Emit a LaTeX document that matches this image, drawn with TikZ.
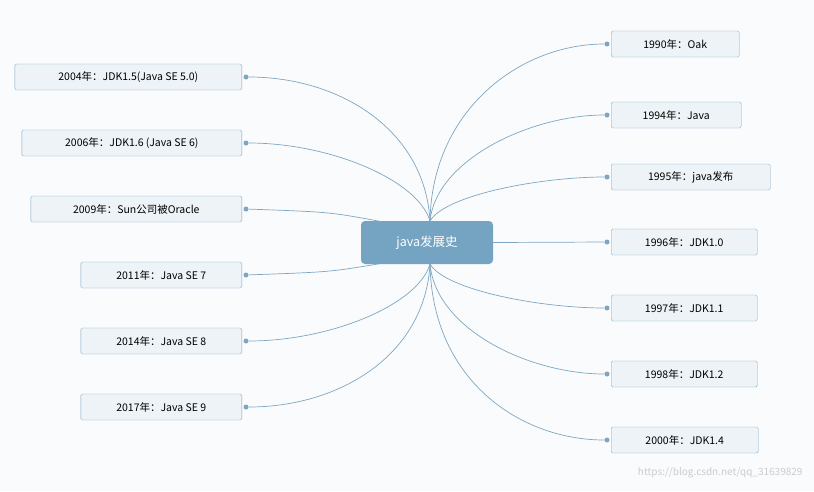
\documentclass[tikz,border=0pt]{standalone}
\usepackage{fontspec}
\setmainfont{Noto Sans CJK SC}
\definecolor{bg}{HTML}{FAFBFC}
\definecolor{mainc}{HTML}{75A3C2}
\definecolor{linec}{HTML}{7EA6C2}
\definecolor{boxf}{HTML}{EEF3F7}
\begin{document}
\begin{tikzpicture}[x=1pt,y=-1pt,
 topic/.style={draw=linec,fill=boxf,rounded corners=1.5pt,minimum height=26pt,inner sep=0pt,font=\fontsize{10.5pt}{12pt}\selectfont,anchor=west},
 conn/.style={draw=linec,line width=0.7pt},
 dot/.style={circle,fill=linec,inner sep=0pt,minimum size=5pt}]
\fill[bg] (0,0) rectangle (814,491);
\useasboundingbox (0,0) rectangle (814,491);
\node[fill=mainc,rounded corners=4pt,minimum width=132pt,minimum height=43pt,text=white,font=\fontsize{12.5pt}{14pt}\selectfont] (c) at (427,242.5) {java发展史};
\coordinate (ct) at (430,221);
\coordinate (cb) at (430,264);
% right
\foreach \n/\y/\w/\t in {r1/44/128/{1990年：Oak},r2/115/130/{1994年：Java},r3/177/159/{1995年：java发布},r4/242/146/{1996年：JDK1.0},r5/308/146/{1997年：JDK1.1},r6/374/146/{1998年：JDK1.2},r7/440/147/{2000年：JDK1.4}}{
 \node[topic,minimum width=\w pt] (\n) at (611,\y) {\t};
 \node[dot] (d\n) at (607,\y) {};
}
\foreach \n/\y/\w/\t in {l1/77/227/{2004年：JDK1.5(Java SE 5.0)},l2/143/220/{2006年：JDK1.6 (Java SE 6)},l3/209/211/{2009年：Sun公司被Oracle},l4/275/161/{2011年：Java SE 7},l5/341/161/{2014年：Java SE 8},l6/407/161/{2017年：Java SE 9}}{
 \node[topic,minimum width=\w pt,anchor=east] (\n) at (242,\y) {\t};
 \node[dot] (d\n) at (246,\y) {};
}
\draw[conn] (ct) .. controls (432,110) and (520,44) .. (dr1);
\draw[conn] (ct) .. controls (436,160) and (530,115) .. (dr2);
\draw[conn] (ct) .. controls (445,195) and (540,177) .. (dr3);
\draw[conn] (c.east) -- (dr4);
\draw[conn] (cb) .. controls (445,290) and (540,308) .. (dr5);
\draw[conn] (cb) .. controls (436,330) and (530,374) .. (dr6);
\draw[conn] (cb) .. controls (432,380) and (520,440) .. (dr7);
\draw[conn] (ct) .. controls (425,130) and (340,77) .. (dl1);
\draw[conn] (ct) .. controls (418,180) and (330,143) .. (dl2);
\draw[conn] (c.west) ++(20,-21) .. controls (330,212) .. (dl3);
\draw[conn] (c.west) ++(20,21) .. controls (330,272) .. (dl4);
\draw[conn] (cb) .. controls (418,305) and (330,341) .. (dl5);
\draw[conn] (cb) .. controls (425,355) and (340,407) .. (dl6);
\node[text=gray!40,font=\fontsize{10pt}{12pt}\selectfont,anchor=south east] (wm) at (806,482) {https://blog.csdn.net/qq\_31639829};
\end{tikzpicture}
\end{document}
